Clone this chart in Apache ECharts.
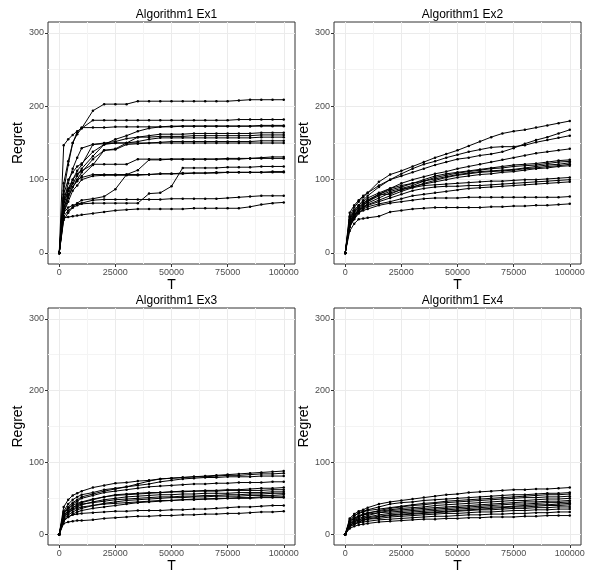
<!DOCTYPE html>
<html>
<head>
<meta charset="utf-8">
<script src="https://cdn.jsdelivr.net/npm/echarts@6/dist/echarts.min.js"></script>
<style>
  html, body { margin: 0; padding: 0; background: #fff; }
  #chart { width: 590px; height: 574px; }
</style>
</head>
<body>
<div id="chart"></div>
<script>
// horizon T at which regret was recorded
const tValues = [0, 2000, 4000, 6000, 8000, 10000,
  15000, 20000, 25000, 30000, 35000, 40000, 45000, 50000, 55000, 60000,
  65000, 70000, 75000, 80000, 85000, 90000, 95000, 100000];

const xTicks = [0, 25000, 50000, 75000, 100000];
const xMinor = [12500, 37500, 62500, 87500];
const yTicks = [0, 100, 200, 300];
const yMinor = [50, 150, 250];

const panelTitles = ['Algorithm1 Ex1', 'Algorithm1 Ex2', 'Algorithm1 Ex3', 'Algorithm1 Ex4'];

const ex1 = [
  [0,95,125,150,162,170,194,203,203,203,207,207,207,207,207,207,207,207,207,208,209,209,209,209],
  [0,147,155,161,166,170,181,181,181,181,181,181,181,181,181,181,181,181,181,182,182,182,182,182],
  [0,85,120,150,165,171,171,171,172,172,172,172,172,172,173,173,173,173,173,173,173,174,174,174],
  [0,60,80,95,105,115,132,148,155,160,166,170,172,173,173,173,173,173,173,173,173,173,173,173],
  [0,70,95,115,130,143,148,150,152,156,158,160,162,162,162,163,163,163,163,163,163,164,164,164],
  [0,55,75,90,100,110,128,140,142,150,158,158,159,159,159,160,160,160,160,160,160,161,161,161],
  [0,80,100,110,118,122,138,148,150,150,152,155,157,157,157,157,157,157,157,157,157,158,158,158],
  [0,65,85,100,112,120,148,149,150,150,150,150,151,152,152,152,152,152,152,152,152,153,153,153],
  [0,60,78,90,98,105,120,140,141,148,149,150,150,150,150,150,150,150,150,150,150,150,150,150],
  [0,75,88,100,108,112,121,121,121,121,128,128,128,128,128,128,128,128,129,129,129,130,131,131],
  [0,45,55,62,68,72,74,77,87,107,113,127,127,128,128,128,128,128,128,128,129,129,129,129],
  [0,70,85,95,100,103,107,107,107,107,107,107,108,108,108,109,109,110,110,110,110,110,111,111],
  [0,50,58,62,65,67,68,68,68,68,68,81,82,91,116,116,116,116,117,117,117,118,118,118],
  [0,55,70,85,92,100,105,106,106,106,106,107,108,108,109,109,109,109,110,110,110,110,110,110],
  [0,55,62,65,67,68,72,73,73,73,73,73,73,74,74,74,74,74,75,76,77,78,78,78],
  [0,48,49,50,51,52,54,56,58,59,60,60,60,60,60,61,61,61,61,61,63,66,68,69]
];

const ex2 = [
  [0,50,62,70,76,82,97,107,112,118,124,130,135,140,146,152,158,163,166,168,171,174,177,180],
  [0,45,58,65,72,78,90,100,105,110,115,120,124,128,130,133,135,138,143,149,154,158,163,168],
  [0,55,65,72,78,82,92,100,108,115,121,125,130,134,138,141,144,145,145,147,151,154,157,160],
  [0,40,52,60,66,70,80,88,95,100,104,108,111,115,118,121,124,127,130,133,136,138,140,142],
  [0,48,58,65,70,75,82,88,92,95,100,105,108,110,112,114,116,118,120,121,122,124,126,127],
  [0,42,55,62,68,72,80,86,90,95,98,103,106,109,111,113,115,116,118,119,120,122,124,125],
  [0,38,50,58,65,70,78,84,88,92,98,101,104,107,109,111,112,113,114,116,118,120,121,123],
  [0,45,56,62,67,72,80,80,87,90,95,99,103,106,108,110,111,112,113,115,116,118,119,121],
  [0,35,48,56,62,68,75,82,86,90,94,97,100,103,105,107,108,110,111,113,115,116,118,119],
  [0,40,50,58,63,66,72,78,84,89,92,93,94,95,96,97,98,98,99,100,100,101,102,103],
  [0,42,52,58,62,65,70,75,80,85,88,90,91,91,92,92,93,94,95,96,97,98,99,100],
  [0,36,46,54,60,63,67,70,74,78,80,82,84,86,88,89,90,91,92,93,94,95,96,97],
  [0,38,48,55,58,60,65,68,70,72,74,75,75,75,76,76,76,76,76,76,76,76,76,77],
  [0,30,40,46,47,48,50,56,58,60,61,62,62,62,62,62,63,63,64,64,65,65,66,67]
];

const ex3 = [
  [0,30,38,44,48,52,56,60,63,66,70,74,77,78,79,80,81,82,83,84,85,86,87,88],
  [0,38,48,54,57,60,65,68,71,72,74,75,77,78,79,80,80,81,82,82,83,84,84,85],
  [0,32,42,48,52,55,58,62,64,66,68,70,73,75,77,78,79,79,80,80,80,81,81,81],
  [0,28,36,42,46,50,54,58,60,62,64,66,67,68,69,70,70,71,71,72,72,72,73,73],
  [0,25,32,37,41,44,48,52,54,55,56,57,58,59,60,60,61,61,62,62,63,64,64,65],
  [0,30,36,40,43,45,49,52,55,56,57,58,58,59,59,60,60,60,61,61,61,61,62,62],
  [0,22,30,35,38,41,45,48,50,52,53,54,55,55,56,56,57,57,57,58,58,58,59,59],
  [0,26,33,37,40,42,44,46,48,49,50,51,52,52,53,53,54,54,55,55,56,56,57,57],
  [0,20,27,31,34,36,40,43,45,47,48,49,50,51,51,52,52,53,53,53,54,54,54,55],
  [0,24,30,34,36,38,40,42,43,44,45,46,47,47,48,48,49,49,50,50,50,51,51,51],
  [0,18,24,28,31,33,36,38,40,42,44,45,46,47,48,49,49,50,50,51,51,52,52,52],
  [0,20,24,27,28,29,30,31,32,32,33,33,33,34,34,35,35,36,37,38,38,39,40,40],
  [0,15,17,18,19,19,20,22,23,24,25,25,26,26,27,27,28,28,29,29,30,31,31,32]
];

const ex4 = [
  [0,22,28,32,34,37,42,45,47,49,51,53,55,56,58,59,60,61,62,62,63,63,64,65],
  [0,18,25,30,32,34,38,42,44,45,47,48,49,50,51,52,53,54,55,55,56,57,57,58],
  [0,20,26,29,31,33,35,37,39,41,43,44,46,47,48,49,50,51,52,53,54,55,55,56],
  [0,15,20,24,27,29,33,36,38,40,41,43,44,45,46,47,48,49,50,51,51,52,52,53],
  [0,16,22,26,28,30,32,34,36,37,38,40,41,42,43,44,45,46,47,47,48,49,49,50],
  [0,14,19,22,24,26,30,33,34,35,36,37,38,39,40,41,42,43,44,45,45,46,46,47],
  [0,18,22,25,27,28,30,31,32,33,34,35,36,37,38,39,40,41,42,42,43,44,44,45],
  [0,12,17,20,22,24,27,29,30,31,32,33,34,35,36,37,38,38,39,40,41,41,42,43],
  [0,14,18,20,22,23,25,27,28,29,30,31,32,33,34,35,36,37,38,38,39,40,40,41],
  [0,10,14,17,19,21,24,26,27,28,29,30,31,32,33,34,34,35,36,36,37,37,38,38],
  [0,12,16,18,20,21,22,24,25,26,27,28,29,29,30,31,31,32,33,33,34,34,35,35],
  [0,11,14,16,17,18,20,21,22,23,24,25,25,26,27,27,28,28,29,29,30,30,31,31],
  [0,8,11,13,14,15,17,18,19,20,21,21,22,22,23,23,24,24,24,25,25,26,26,26]
];

const panels = [ex1, ex2, ex3, ex4];

const FONT = 'Liberation Sans, Arial, sans-serif';
const gridBoxes = [
  { left: 48, top: 22 },
  { left: 334, top: 22 },
  { left: 48, top: 308 },
  { left: 334, top: 308 }
];

const grids = [], titles = [], xAxes = [], yAxes = [], series = [];

gridBoxes.forEach((b, p) => {
  grids.push({
    left: b.left, top: b.top, width: 247, height: 242,
    show: true, borderColor: '#333333', borderWidth: 1, backgroundColor: 'transparent'
  });
  titles.push({
    text: panelTitles[p],
    left: b.left + 123.5, top: b.top - 18, textAlign: 'center',
    textStyle: { fontFamily: FONT, fontSize: 12, fontWeight: 'normal', color: '#000' }
  });
});

// main axes (ticks, labels, major grid)
gridBoxes.forEach((b, p) => {
  xAxes.push({
    gridIndex: p, type: 'value', min: -5000, max: 105000,
    name: 'T', nameLocation: 'middle', nameGap: 14,
    nameTextStyle: { fontFamily: FONT, fontSize: 14, color: '#000' },
    axisLine: { show: false, onZero: false },
    axisTick: { show: true, length: 3, customValues: xTicks, lineStyle: { color: '#333333' } },
    axisLabel: {
      customValues: xTicks, margin: 4, fontFamily: FONT, fontSize: 9, color: '#4d4d4d',
      formatter: v => String(v)
    },
    splitLine: { show: true, lineStyle: { color: '#ebebeb', width: 1 } }
  });
  yAxes.push({
    gridIndex: p, type: 'value', min: -15, max: 315,
    name: 'Regret', nameLocation: 'middle', nameGap: 17,
    nameTextStyle: { fontFamily: FONT, fontSize: 14, color: '#000' },
    axisLine: { show: false, onZero: false },
    axisTick: { show: true, length: 3, customValues: yTicks, lineStyle: { color: '#333333' } },
    axisLabel: { customValues: yTicks, margin: 4, fontFamily: FONT, fontSize: 9, color: '#4d4d4d' },
    splitLine: { show: true, lineStyle: { color: '#ebebeb', width: 1 } }
  });
});

// minor grid lines
gridBoxes.forEach((b, p) => {
  xAxes.push({
    gridIndex: p, type: 'value', min: -5000, max: 105000,
    axisLine: { show: false, onZero: false },
    axisTick: { show: false, customValues: xMinor },
    axisLabel: { show: false, customValues: xMinor },
    splitLine: { show: true, lineStyle: { color: '#f4f4f4', width: 1 } }
  });
  yAxes.push({
    gridIndex: p, type: 'value', min: -15, max: 315,
    axisLine: { show: false, onZero: false },
    axisTick: { show: false, customValues: yMinor },
    axisLabel: { show: false, customValues: yMinor },
    splitLine: { show: true, lineStyle: { color: '#f4f4f4', width: 1 } }
  });
});

panels.forEach((lines, p) => {
  lines.forEach(vals => {
    series.push({
      type: 'line',
      xAxisIndex: p, yAxisIndex: p,
      data: tValues.map((t, i) => [t, vals[i]]),
      symbol: 'circle', symbolSize: 2.5,
      showSymbol: true,
      lineStyle: { color: '#000', width: 1 },
      itemStyle: { color: '#000' },
      silent: true
    });
  });
});

const chart = echarts.init(document.getElementById('chart'), null, { renderer: 'canvas' });
chart.setOption({
  animation: false,
  backgroundColor: '#fff',
  title: titles,
  grid: grids,
  xAxis: xAxes,
  yAxis: yAxes,
  series: series
});
</script>
</body>
</html>
